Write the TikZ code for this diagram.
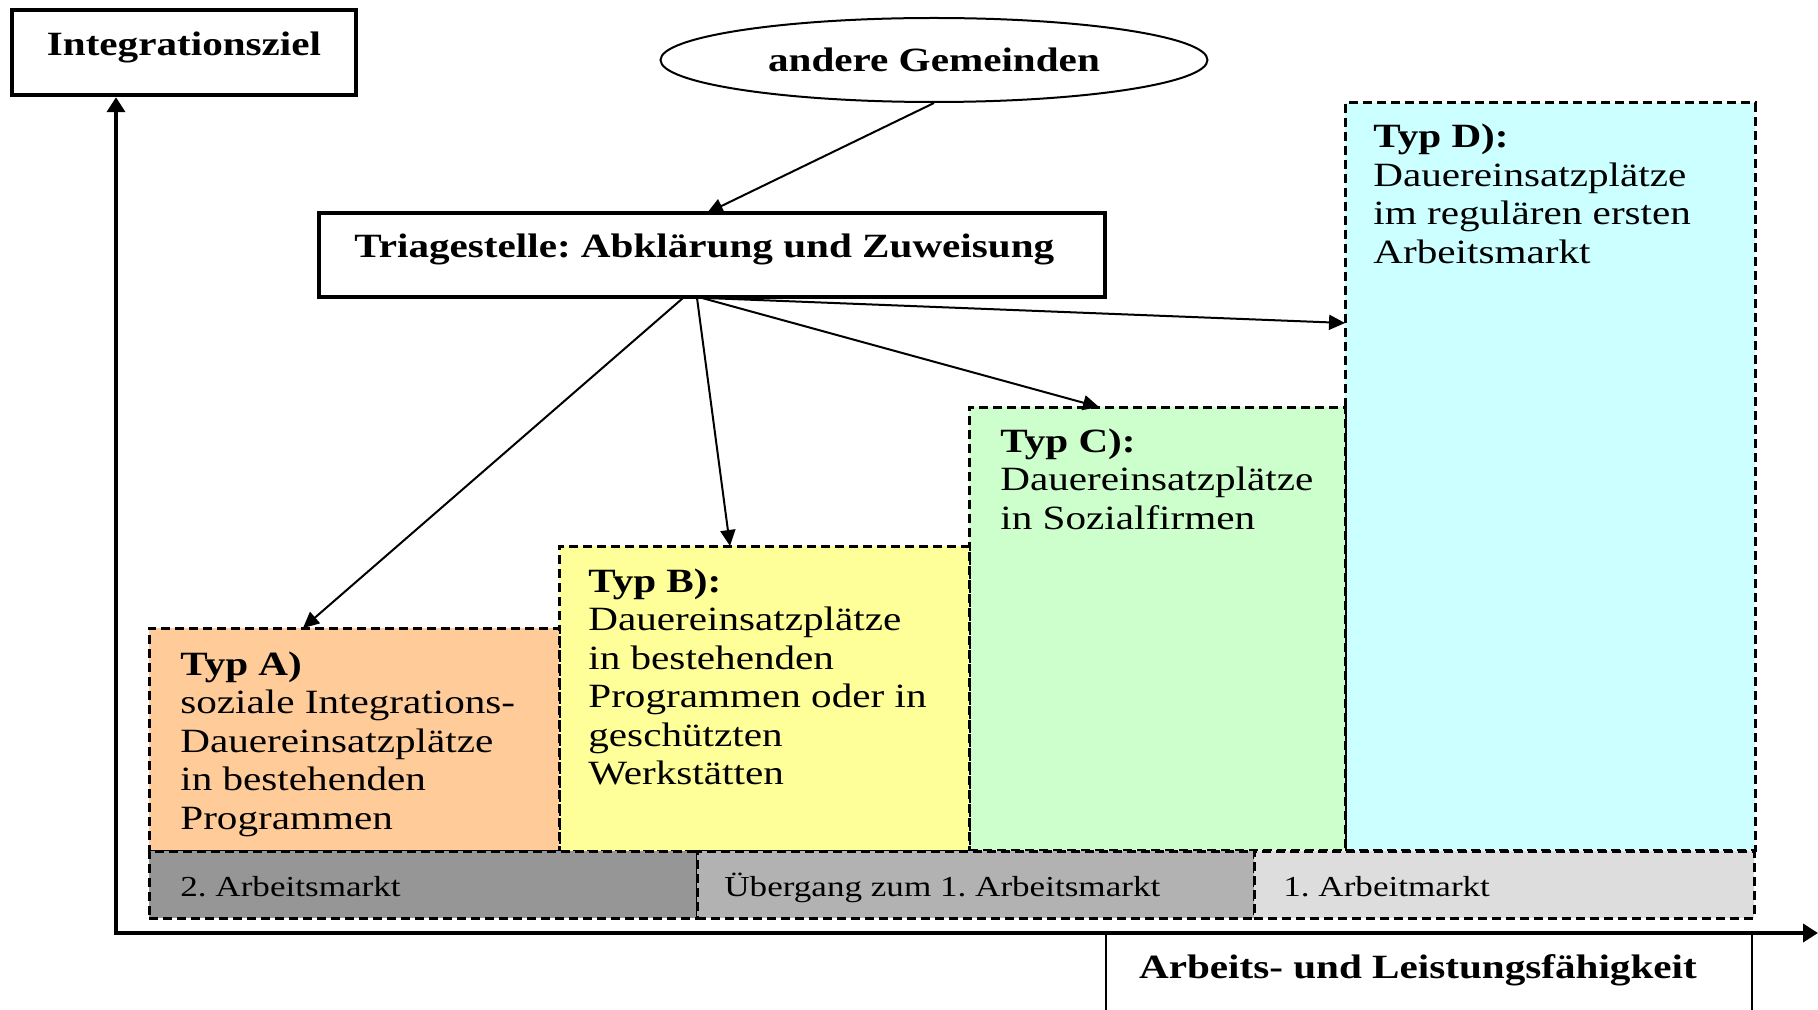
\documentclass[tikz,border=0pt]{standalone}
\usepackage{fontspec}
\setmainfont{Liberation Serif}[FakeStretch=1.21]
\usetikzlibrary{arrows.meta,fit,shapes.geometric}
\frenchspacing
\newcommand\bodyfont{\fontsize{17}{19.25}\selectfont}
\newcommand\stripfont{\fontsize{14.5}{17}\selectfont}
\definecolor{cA}{HTML}{FFCC99}
\definecolor{cB}{HTML}{FFFF99}
\definecolor{cC}{HTML}{CCFFCC}
\definecolor{cD}{HTML}{CCFFFF}
\definecolor{sOne}{HTML}{969696}
\definecolor{sTwo}{HTML}{B2B2B2}
\definecolor{sThree}{HTML}{DDDDDD}
\begin{document}
\begin{tikzpicture}[x=0.5pt,y=-0.5pt,
  arr/.style={-{Triangle[length=8pt,width=7.5pt]}, line width=1pt},
  axarr/.style={-{Triangle[length=7.5pt,width=9pt]}, line width=2pt},
  dbox/.style={draw, dash pattern=on 4.5pt off 2.5pt, line width=1.5pt, inner sep=0pt, rectangle},
  thickbox/.style={draw, line width=2.2pt, inner sep=0pt, rectangle},
  txt/.style={inner sep=0pt, font=\bodyfont},
  striptxt/.style={inner sep=0pt, font=\stripfont, anchor=base west}]
\useasboundingbox (0,0) rectangle (1818,1010);
\clip (0,0) rectangle (1818,1010);
\fill[white] (0,0) rectangle (1818,1010);

% type boxes
\node[dbox, fill=cD, fit={(1345,103) (1755,850)}] (boxD) {};
\node[dbox, fill=cC, fit={(969,407) (1345,850)}] (boxC) {};
\node[dbox, fill=cB, fit={(559,546) (969,851)}] (boxB) {};
\node[dbox, fill=cA, fit={(149,628) (559,851)}] (boxA) {};
% strips
\node[dbox, fill=sOne, fit={(149,851) (697,918)}] (stripA) {};
\node[dbox, fill=sTwo, fit={(697,851) (1254,918)}] (stripB) {};
\node[dbox, fill=sThree, fit={(1254,851) (1754,918)}] (stripC) {};

% box texts
\node[txt, anchor=base west] (tA) at (180,675) {\parbox[t]{190pt}{\bodyfont\textbf{Typ A)}\\soziale Integrations-\\Dauereinsatzplätze\\in bestehenden\\Programmen}};
\node[txt, anchor=base west] (tB) at (588,592) {\parbox[t]{190pt}{\bodyfont\textbf{Typ B):}\\Dauereinsatzplätze\\in bestehenden\\Programmen oder in\\geschützten\\Werkstätten}};
\node[txt, anchor=base west] (tC) at (1000,452) {\parbox[t]{190pt}{\bodyfont\textbf{Typ C):}\\Dauereinsatzplätze\\in Sozialfirmen}};
\node[txt, anchor=base west] (tD) at (1373,148) {\parbox[t]{190pt}{\bodyfont\textbf{Typ D):}\\Dauereinsatzplätze\\im regulären ersten\\Arbeitsmarkt}};

\node[striptxt] (sA) at (180,896) {2. Arbeitsmarkt};
\node[striptxt] (sB) at (724,896) {Übergang zum 1. Arbeitsmarkt};
\node[striptxt] (sC) at (1283,896) {1. Arbeitmarkt};

% top elements
\node[thickbox, fit={(12,10) (356,95)}] (iz) {};
\node[txt, anchor=base] (izt) at (184,56) {\textbf{Integrationsziel}};
\node[draw, ellipse, line width=1pt, minimum width=273.5pt, minimum height=42pt, inner sep=0pt, font=\bodyfont\bfseries] (ell) at (934,60) {andere Gemeinden};
\node[thickbox, fit={(319,213) (1105,297)}] (tri) {};
\node[txt, anchor=base west] (trit) at (354,258) {\textbf{Triagestelle: Abklärung und Zuweisung}};

% axis label box
\node[draw, line width=1pt, inner sep=0pt, rectangle, fit={(1106,933) (1752,1060)}] (xlab) {};
\node[txt, anchor=base] (xlabt) at (1418,978) {\textbf{Arbeits- und Leistungsfähigkeit}};

% axes
\coordinate (origin) at (116,933);
\coordinate (xend) at (1818,933);
\draw[axarr] (origin) -- (origin |- iz.south);
\draw[axarr] ([xshift=-1pt]origin) -- (xend);

% connectors
\coordinate (triIn) at (707,213);
\draw[arr] (ell.south) -- (triIn);
\coordinate (oA) at (683,298);
\coordinate (oB) at (697,298);
\coordinate (oC) at (702,298);
\coordinate (oD) at (706,298);
\coordinate (inA) at (303,628);
\coordinate (inB) at (730,546);
\coordinate (inC) at (1099,407);
\coordinate (inD) at (1345,323);
\draw[arr] (oA) -- (inA);
\draw[arr] (oB) -- (inB);
\draw[arr] (oC) -- (inC);
\draw[arr] (oD) -- (inD);
\end{tikzpicture}
\end{document}
